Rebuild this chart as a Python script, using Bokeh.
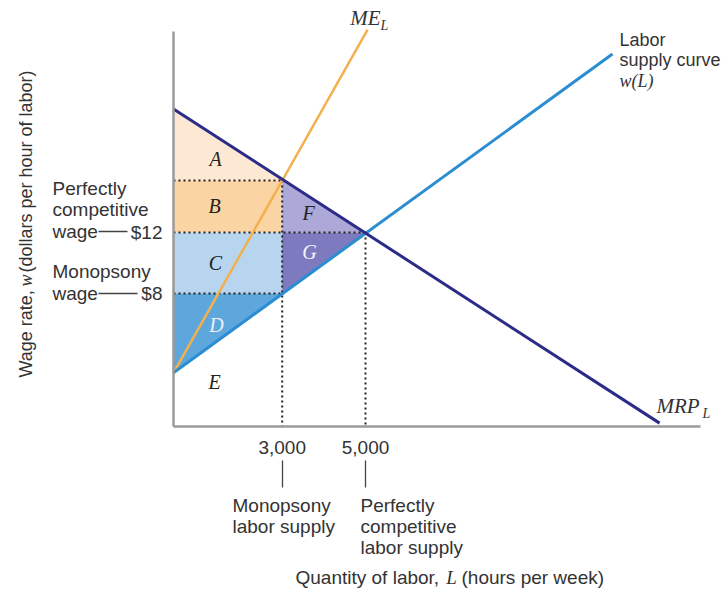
import numpy as np
from bokeh.plotting import figure
from bokeh.models import Range1d, FixedTicker, Label
from bokeh.embed import file_html
from bokeh.resources import INLINE

# ---------------- data (hours per week, dollars per hour) ----------------
L_mono, L_comp = 3000, 5000          # monopsony / perfectly competitive labour supply
w_mono, w_comp = 8, 12               # monopsony / perfectly competitive wage
L_axis_start, L_axis_end = 390, 13040   # extent of the quantity axis
w_axis_start, w_axis_end = -0.72, 25.18 # extent of the wage axis
mrp_L = [390, 12060]
mrp_w = [20.1, -0.5]
supply_L = [390, 10930]
supply_w = [2.8, 23.7]
me_L = [390, 5050]
me_w = [2.8, 25.3]
x_ticks = [3000, 5000]
x_tick_labels = ["3,000", "5,000"]
y_ticks = [8, 12]
y_tick_labels = ["$8", "$12"]

me_at_mono = float(np.interp(L_mono, me_L, me_w))
mrp_at_axis = mrp_w[0]
supply_at_axis = supply_w[0]

# ---------------- screen calibration ----------------
W, H = 725, 588
PX_L = (281.7, 365.0)    # screen x of L_mono, L_comp
PY_W = (293.0, 232.0)    # screen y of w_mono, w_comp
hpp = (L_comp - L_mono) / (PX_L[1] - PX_L[0])
wpp = (w_comp - w_mono) / (PY_W[0] - PY_W[1])
def X(px): return L_mono + (px - PX_L[0]) * hpp
def Y(py): return w_mono - (py - PY_W[0]) * wpp

p = figure(width=W, height=H, output_backend="svg", toolbar_location=None,
           x_range=Range1d(X(0), X(W)), y_range=Range1d(Y(H), Y(0)),
           min_border=0, min_border_left=0, min_border_right=0,
           min_border_top=0, min_border_bottom=0)
p.outline_line_color = None
p.xgrid.visible = False
p.ygrid.visible = False

SANS = "Liberation Sans"
SERIF = "Liberation Serif"
TXT = "#333333"

# ---------------- shaded areas ----------------
def area(xs, ys, color):
    p.patch(xs, ys, fill_color=color, line_color=None)

La = L_axis_start
area([La, La, L_mono], [mrp_at_axis, me_at_mono, me_at_mono], "#fde8d3")             # A
area([La, L_mono, L_mono, La], [w_comp, w_comp, me_at_mono, me_at_mono], "#fbd4a3")  # B
area([La, L_mono, L_mono, La], [w_mono, w_mono, w_comp, w_comp], "#b7d5ef")          # C
area([La, L_mono, La], [supply_at_axis, w_mono, w_mono], "#5ea7dd")                  # D
area([L_mono, L_mono, L_comp], [me_at_mono, w_comp, w_comp], "#aca8d8")              # F
area([L_mono, L_comp, L_mono], [w_mono, w_comp, w_comp], "#7e7ac0")                  # G

# ---------------- dotted guides ----------------
dot = dict(line_color="#222222", line_width=2, line_dash="2 3")
p.line([La, L_mono], [me_at_mono, me_at_mono], **dot)
p.line([La, L_comp], [w_comp, w_comp], **dot)
p.line([La, L_mono], [w_mono, w_mono], **dot)
p.line([L_mono, L_mono], [me_at_mono, w_axis_start], **dot)
p.line([L_comp, L_comp], [w_comp, w_axis_start], **dot)

# ---------------- curves ----------------
p.line(me_L, me_w, line_color="#f3b04c", line_width=2.5)
p.line(supply_L, supply_w, line_color="#2a8dd2", line_width=3)
p.line(mrp_L, mrp_w, line_color="#2c2c88", line_width=3)

# ---------------- axes (fixed inside the full-canvas frame) ----------------
xa, ya = p.xaxis[0], p.yaxis[0]
xa.fixed_location = w_axis_start
ya.fixed_location = L_axis_start
xa.bounds = (L_axis_start, L_axis_end)
ya.bounds = (w_axis_start, w_axis_end)
for ax in (xa, ya):
    ax.axis_line_color = "#9a9a9a"
    ax.axis_line_width = 2.5
    ax.major_tick_line_color = None
    ax.minor_tick_line_color = None
    ax.major_label_text_font = SANS
    ax.major_label_text_font_size = "19px"
    ax.major_label_text_color = TXT
xa.ticker = FixedTicker(ticks=x_ticks)
xa.major_label_overrides = dict(zip(x_ticks, x_tick_labels))
xa.major_label_standoff = 9
ya.ticker = FixedTicker(ticks=y_ticks)
ya.major_label_overrides = dict(zip(y_ticks, y_tick_labels))
ya.major_label_standoff = 5

# ---------------- annotations ----------------
def txt(s, px, py, size=19, font=SANS, style="normal", color=TXT,
        align="left", baseline="middle", angle=0.0):
    p.add_layout(Label(x=X(px), y=Y(py), text=s, text_font=font,
                       text_font_size=f"{size}px", text_font_style=style,
                       text_color=color, text_align=align,
                       text_baseline=baseline, angle=angle))

def rule(x0, y0, x1, y1):
    p.line([X(x0), X(x1)], [Y(y0), Y(y1)], line_color="#444444", line_width=1.3)

# region letters
for s, px, py, c in [("A", 215, 158, "#222"), ("B", 214, 205, "#222"), ("C", 215, 262, "#222"),
                     ("D", 216, 324, "#e8f0fa"), ("E", 214, 381, "#222"),
                     ("F", 308, 212, "#222"), ("G", 309, 251, "#f4f4fb")]:
    txt(s, px, py, size=20, font=SERIF, style="italic", color=c, align="center")

# curve labels
txt("ME", 365, 17, size=21, font=SERIF, style="italic", align="center")
txt("L", 380, 25, size=14, font=SERIF, style="italic")
txt("MRP", 656, 405, size=21, font=SERIF, style="italic")
txt("L", 702, 413, size=14, font=SERIF, style="italic")
txt("Labor", 619, 39, size=18)
txt("supply curve", 619, 59, size=18)
txt("w(L)", 619, 80, size=18, font=SERIF, style="italic")

# left wage labels
txt("Perfectly", 52, 188)
txt("competitive", 52, 209)
txt("wage", 52, 231)
rule(98, 231, 127, 231)
txt("Monopsony", 52, 271)
txt("wage", 52, 293)
rule(98, 293, 137, 293)

# bottom labour labels
rule(282, 460, 282, 487)
rule(365, 460, 365, 487)
txt("Monopsony", 232, 505)
txt("labor supply", 232, 526)
txt("Perfectly", 360, 505)
txt("competitive", 360, 526)
txt("labor supply", 360, 547)

# axis titles
txt("Quantity of labor,", 295, 577)
txt("L", 451, 577, font=SERIF, style="italic", align="center")
txt("(hours per week)", 461, 577)
ang = np.pi / 2
txt("Wage rate, ", 25, 377, size=18, angle=ang)
txt("w", 25, 280, size=18, font=SERIF, style="italic", align="center", angle=ang)
txt("(dollars per hour of labor)", 25, 272, size=18, angle=ang)

open("out.html", "w").write(file_html(p, INLINE))
